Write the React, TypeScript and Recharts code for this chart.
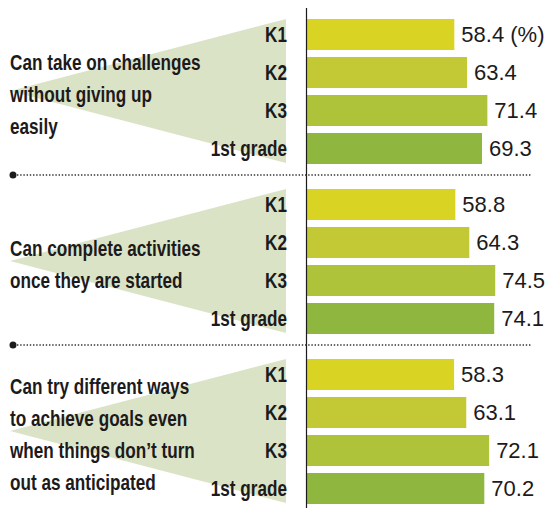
import React from "react";
import { BarChart, Bar, XAxis, YAxis, Cell, LabelList } from "recharts";

const grades = ["K1", "K2", "K3", "1st grade"];

const questions = [
  ["Can take on challenges", "without giving up", "easily"],
  ["Can complete activities", "once they are started"],
  ["Can try different ways", "to achieve goals even", "when things don\u2019t turn", "out as anticipated"],
];

const challengeValues = [58.4, 63.4, 71.4, 69.3];
const completeValues = [58.8, 64.3, 74.5, 74.1];
const tryValues = [58.3, 63.1, 72.1, 70.2];

const groupValues = [challengeValues, completeValues, tryValues];

const barColors = ["#d9d324", "#c3c934", "#aec23a", "#8fb63e"];
const wedgeColor = "#dbe3c7";
const ink = "#1d1a1b";

const W = 547;
const CHART_H = 170;
const AXIS_X = 306;
const LABEL_FONT = "'Liberation Sans', Arial, sans-serif";
const VALUE_FONT = "'Liberation Sans', Arial, sans-serif";
const NARROW = 0.78;

// condensed bold label, the font has no narrow cut so squeeze it
function NarrowText({ x, y, anchor, children }: { x: number; y: number; anchor?: string; children: React.ReactNode }) {
  return (
    <text
      transform={`translate(${x},${y}) scale(${NARROW},1)`}
      textAnchor={anchor || "start"}
      fontFamily={LABEL_FONT}
      fontWeight="bold"
      fontSize={22}
      fill={ink}
    >
      {children}
    </text>
  );
}

const GradeTick = (props: any) => {
  const { x, y, payload } = props;
  return (
    <NarrowText x={x} y={y + 7.8} anchor="end">
      {payload.value}
    </NarrowText>
  );
};

function Group({ values, index }: { values: number[]; index: number }) {
  const data = grades.map((g, i) => ({
    grade: g,
    value: values[i],
    label: index === 0 && i === 0 ? `${values[i]} (%)` : `${values[i]}`,
  }));
  const lines = questions[index];
  const top = 15;
  const bottom = CHART_H - 3;
  const mid = (top + bottom) / 2;
  const lineGap = 32;
  const firstBase = mid + 11 - ((lines.length - 1) * lineGap) / 2;

  return (
    <div style={{ position: "absolute", left: 0, top: index * CHART_H, width: W, height: CHART_H }}>
      <svg width={W} height={CHART_H} style={{ position: "absolute", left: 0, top: 0 }}>
        <polygon points={`10,${mid} 286,${top + 4} 286,${bottom - 4}`} fill={wedgeColor} />
        {lines.map((t, i) => (
          <NarrowText key={i} x={10} y={firstBase + i * lineGap}>
            {t}
          </NarrowText>
        ))}
      </svg>
      <BarChart
        width={W}
        height={CHART_H}
        data={data}
        layout="vertical"
        margin={{ top, bottom: CHART_H - bottom, left: 6, right: W - AXIS_X - 228.6 }}
        style={{ position: "absolute", left: 0, top: 0 }}
      >
        <XAxis type="number" domain={[0, 90]} hide />
        <YAxis
          type="category"
          dataKey="grade"
          width={AXIS_X - 6}
          axisLine={false}
          tickLine={false}
          tickSize={0}
          tickMargin={19}
          tick={<GradeTick />}
        />
        <Bar dataKey="value" barSize={31} isAnimationActive={false}>
          {data.map((_, i) => (
            <Cell key={i} fill={barColors[i]} />
          ))}
          <LabelList
            dataKey="label"
            position="right"
            offset={7}
            style={{ fontFamily: VALUE_FONT, fontSize: 22, fill: ink }}
          />
        </Bar>
      </BarChart>
    </div>
  );
}

export default function App() {
  return (
    <div style={{ position: "absolute", left: 0, top: 0, width: W, height: 508, background: "#fff", overflow: "hidden" }}>
      {groupValues.map((v, i) => (
        <Group key={i} values={v} index={i} />
      ))}
      <svg width={W} height={508} style={{ position: "absolute", left: 0, top: 0, pointerEvents: "none" }}>
        <line x1={AXIS_X + 0.5} y1={8} x2={AXIS_X + 0.5} y2={508} stroke={ink} strokeWidth={1.2} />
        {[175, 345].map((y) => (
          <g key={y}>
            <circle cx={13} cy={y} r={3.5} fill={ink} />
            <line x1={17} y1={y} x2={532} y2={y} stroke="#333" strokeWidth={1.6} strokeDasharray="1.4 1.8" />
          </g>
        ))}
      </svg>
    </div>
  );
}
